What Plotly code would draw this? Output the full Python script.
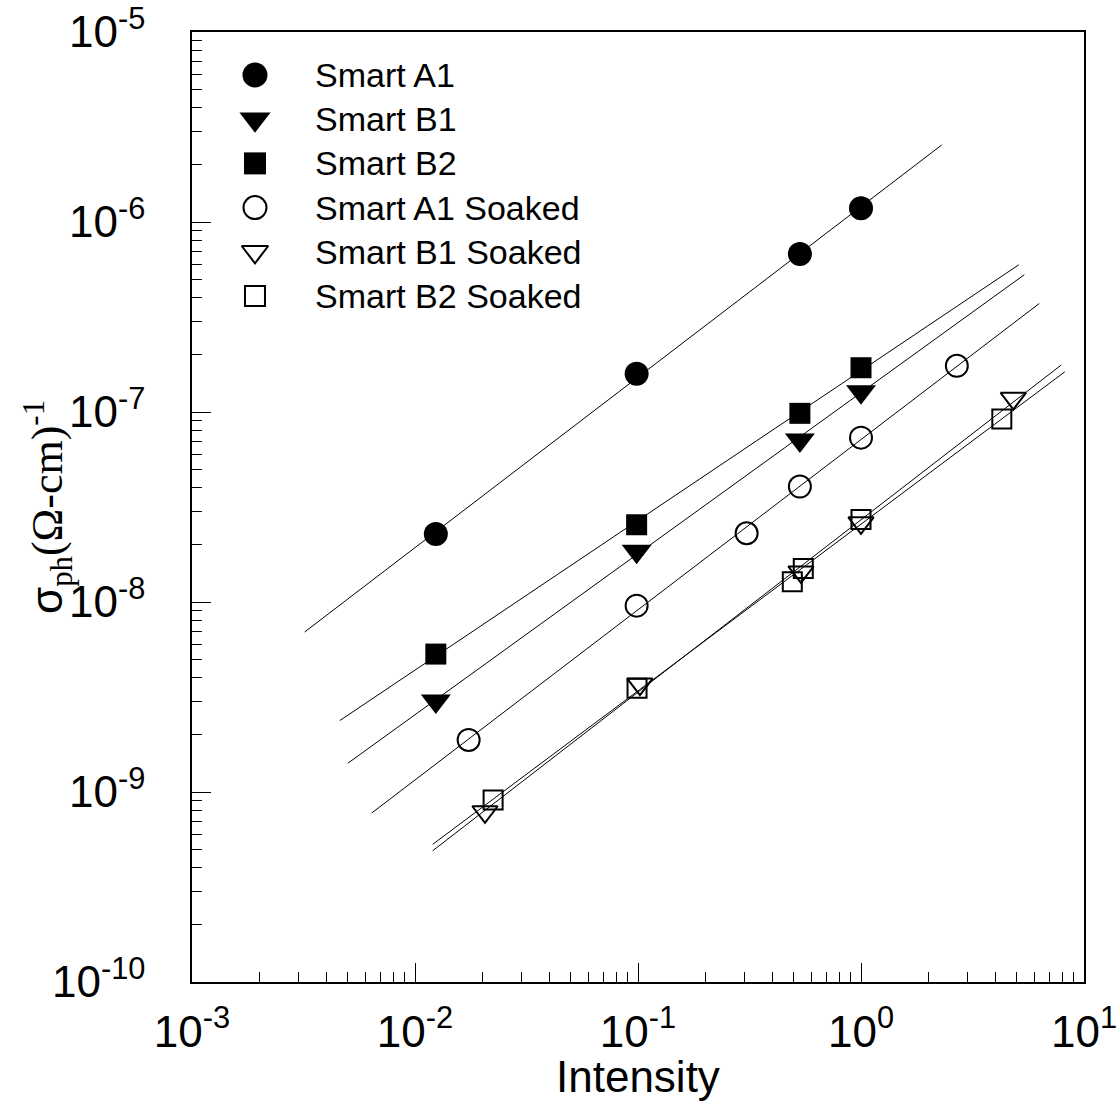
import numpy as np
import plotly.graph_objects as go

# ---- measured photoconductivity vs. light intensity ----
series_names = ["Smart A1", "Smart B1", "Smart B2",
                "Smart A1 Soaked", "Smart B1 Soaked", "Smart B2 Soaked"]

a1_x = [0.0124, 0.0986, 0.532, 1.0]
a1_y = [2.28e-8, 1.59e-7, 6.79e-7, 1.18e-6]

b1_x = [0.0124, 0.0986, 0.532, 1.0]
b1_y = [3.01e-9, 1.85e-8, 7.13e-8, 1.28e-7]

b2_x = [0.0124, 0.0986, 0.532, 1.0]
b2_y = [5.32e-9, 2.55e-8, 9.84e-8, 1.71e-7]

a1s_x = [0.0174, 0.0986, 0.307, 0.532, 1.0, 2.69]
a1s_y = [1.88e-9, 9.57e-9, 2.30e-8, 4.05e-8, 7.33e-8, 1.75e-7]

b1s_x = [0.0206, 0.102, 0.538, 1.0, 4.82]
b1s_y = [7.87e-10, 3.70e-9, 1.44e-8, 2.61e-8, 1.18e-7]

b2s_x = [0.0224, 0.099, 0.492, 0.551, 1.0, 4.28]
b2s_y = [9.08e-10, 3.52e-9, 1.28e-8, 1.50e-8, 2.72e-8, 9.19e-8]

# intensity span covered by each power-law fit line
fit_ranges = [(0.0032, 2.3), (0.0050, 5.4), (0.0046, 5.1),
              (0.0064, 6.3), (0.0120, 7.9), (0.0120, 8.2)]

xs = [a1_x, b1_x, b2_x, a1s_x, b1s_x, b2s_x]
ys = [a1_y, b1_y, b2_y, a1s_y, b1s_y, b2s_y]

symbols = ["circle", "triangle-down", "square",
           "circle-open", "triangle-down-open", "square-open"]
sizes = [24, 26, 21, 22, 22, 19]

x_ticks = [1e-3, 1e-2, 1e-1, 1e0, 1e1]
x_ticktext = ["10<sup>-3</sup>", "10<sup>-2</sup>", "10<sup>-1</sup>",
              "10<sup>0</sup>", "10<sup>1</sup>"]
y_ticks = [1e-10, 1e-9, 1e-8, 1e-7, 1e-6, 1e-5]
y_ticktext = ["10<sup>-10</sup>", "10<sup>-9</sup>", "10<sup>-8</sup>",
              "10<sup>-7</sup>", "10<sup>-6</sup>", "10<sup>-5</sup>"]

FONT = "Liberation Sans, Arial, sans-serif"

fig = go.Figure()

# least-squares power-law fits drawn as straight lines on log-log axes
for (x, y), (lo, hi) in zip(zip(xs, ys), fit_ranges):
    slope, icpt = np.polyfit(np.log10(x), np.log10(y), 1)
    fx = np.array([lo, hi])
    fy = 10 ** (icpt + slope * np.log10(fx))
    fig.add_trace(go.Scatter(x=fx, y=fy, mode="lines",
                             line=dict(color="black", width=1),
                             showlegend=False, hoverinfo="skip"))

# data markers
for name, x, y, sym, sz in zip(series_names, xs, ys, symbols, sizes):
    fig.add_trace(go.Scatter(
        x=x, y=y, mode="markers", name=name, showlegend=False,
        marker=dict(symbol=sym, size=sz, color="black",
                    line=dict(color="black", width=2 if "open" in sym else 0))))

# key drawn on an overlay axis spanning the plot area (0..1 both ways)
key_x = 0.0706
key_top = 0.9547
key_step = 0.0465
key_y = [key_top - i * key_step for i in range(len(series_names))]
for name, sym, sz, ky in zip(series_names, symbols, sizes, key_y):
    fig.add_trace(go.Scatter(
        x=[key_x], y=[ky], xaxis="x2", yaxis="y2", mode="markers",
        showlegend=False, hoverinfo="skip",
        marker=dict(symbol=sym, size=sz + 1, color="black",
                    line=dict(color="black", width=2 if "open" in sym else 0))))
    fig.add_annotation(x=0.1357, y=ky, xref="paper", yref="paper",
                       text=name, showarrow=False, xanchor="left",
                       yanchor="middle",
                       font=dict(family=FONT, size=34, color="black"))

axis_common = dict(
    type="log", showgrid=False, zeroline=False,
    showline=True, linecolor="black", linewidth=1.5, mirror=True,
    ticks="inside", ticklen=19, tickwidth=1.2, tickcolor="black",
    minor=dict(ticks="inside", ticklen=10, tickwidth=1.2,
               tickcolor="black", dtick="D1", showgrid=False),
    tickfont=dict(family=FONT, size=44, color="black"),
)

fig.update_layout(
    width=1120, height=1106,
    margin=dict(l=192, r=36, t=32, b=124, autoexpand=False),
    paper_bgcolor="white", plot_bgcolor="white",
    showlegend=False,
    xaxis=dict(axis_common, range=[-3, 1], tickvals=x_ticks,
               ticktext=x_ticktext, ticklabelstandoff=10, automargin=False),
    yaxis=dict(axis_common, range=[-10, -5], tickvals=y_ticks,
               ticktext=y_ticktext, ticklabelstandoff=36, automargin=False),
    xaxis2=dict(overlaying="x", range=[0, 1], visible=False),
    yaxis2=dict(overlaying="y", range=[0, 1], visible=False),
)

# axis titles
fig.add_annotation(x=0.5, y=(982 - 1076) / 950, xref="paper", yref="paper",
                   text="Intensity", showarrow=False,
                   xanchor="center", yanchor="middle",
                   font=dict(family=FONT, size=44, color="black"))
fig.add_annotation(
    x=(48 - 192) / 892, y=0.5, xref="paper", yref="paper",
    text=("σ<sub><span style='font-family:Liberation Serif'>ph</span></sub>"
          "<span style='font-family:Liberation Serif'>(Ω-cm)</span>"
          "<sup><span style='font-family:Liberation Serif'>-1</span></sup>"),
    showarrow=False, textangle=-90, xanchor="center", yanchor="middle",
    font=dict(family=FONT, size=44, color="black"))

fig.write_html("out.html")
